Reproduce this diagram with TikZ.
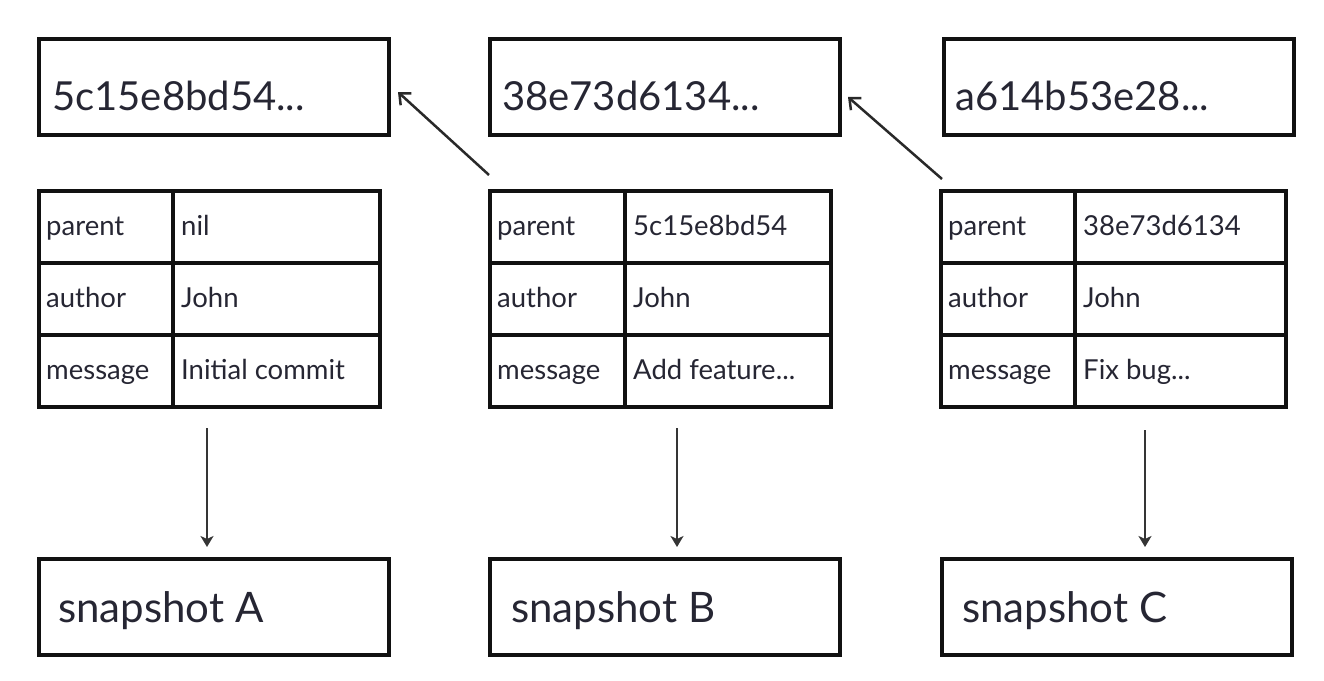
\documentclass[tikz,border=0pt]{standalone}
\usepackage{fontspec}
\setmainfont{Lato}
\usetikzlibrary{arrows.meta,fit,calc}
\definecolor{txt}{HTML}{262633}
\definecolor{ln}{HTML}{111111}
\tikzset{
  box/.style={draw=ln, line width=4.5pt, rectangle, inner sep=0pt, outer sep=0pt, minimum width=350pt, minimum height=96pt},
  cell/.style={draw=ln, line width=4pt, rectangle, inner sep=0pt, outer sep=0pt, minimum height=72pt},
  hashtxt/.style={text=txt, font=\fontsize{40}{40}\selectfont, inner sep=0pt, anchor=base west},
  snaptxt/.style={text=txt, font=\fontsize{42}{42}\selectfont, inner sep=0pt, anchor=base west},
  tabtxt/.style={text=txt, font=\fontsize{27.5}{27.5}\selectfont, inner sep=0pt, anchor=base west},
  diag/.style={draw=ln!90, line width=2.5pt, -{Straight Barb[length=9pt,width=16pt,line width=2.5pt]}},
  vert/.style={draw=ln!85, line width=2.5pt, -{Stealth[length=11pt,width=13pt,inset=3pt]}},
}
% #1 id, #2 L, #3 D, #4 R, #5 row index, #6 row id, #7 key, #8 value
\newcommand{\tabrow}[8]{%
  \node[cell, minimum width={#3-#2}, anchor=north west] (#1#6k) at (#2, {191+72*#5}) {};
  \node[cell, minimum width={#4-#3}, anchor=north west] (#1#6v) at (#3, {191+72*#5}) {};
  \node[tabtxt] (#1#6kt) at ({#2+7}, {191+72*#5+44}) {#7};
  \node[tabtxt] (#1#6vt) at ({#3+8}, {191+72*#5+44}) {#8};
}
\newcommand{\committable}[6]{%
  \tabrow{#1}{#2}{#3}{#4}{0}{p}{parent}{#5}
  \tabrow{#1}{#2}{#3}{#4}{1}{a}{author}{John}
  \tabrow{#1}{#2}{#3}{#4}{2}{m}{message}{#6}
  \node[fit=(#1pk)(#1mv), inner sep=0pt, outer sep=0pt] (#1) {};
}
\begin{document}
\begin{tikzpicture}[x=1pt,y=-1pt]
\useasboundingbox[fill=white] (0,0) rectangle (1324,680);

% hash boxes
\node[box, anchor=north west] (h1) at (39,39) {};
\node[box, anchor=north west] (h2) at (490,39) {};
\node[box, anchor=north west] (h3) at (944,39) {};
\node[hashtxt] (h1t) at (52,110) {5c15e8bd54...};
\node[hashtxt] (h2t) at (502,110) {38e73d6134...};
\node[hashtxt] (h3t) at (955,110) {a614b53e28...};

% tables
\committable{t1}{39}{173}{380}{nil}{Initial commit}
\committable{t2}{490}{625}{831}{5c15e8bd54}{Add feature...}
\committable{t3}{941}{1075}{1286}{38e73d6134}{Fix bug...}

% snapshot boxes
\node[box, anchor=north west] (s1) at (39,559) {};
\node[box, anchor=north west] (s2) at (490,559) {};
\node[box, anchor=north west] (s3) at (942,559) {};
\node[snaptxt] (s1t) at (58,622) {snapshot A};
\node[snaptxt] (s2t) at (511,622) {snapshot B};
\node[snaptxt] (s3t) at (962,622) {snapshot C};

% parent arrows
\draw[diag] ([shift={(-1,-16)}]t2.north west) -- ([shift={(9,5)}]h1.east);
\draw[diag] ([shift={(1,-12)}]t3.north west) -- ([shift={(8,10)}]h2.east);

% snapshot arrows
\draw[vert, shorten <=21pt, shorten >=12pt] ([xshift=168pt]t1.south west) -- ([xshift=168pt]t1.south west |- s1.north);
\draw[vert, shorten <=21pt, shorten >=12pt] ([xshift=187pt]t2.south west) -- ([xshift=187pt]t2.south west |- s2.north);
\draw[vert, shorten <=23pt, shorten >=12pt] ([xshift=204pt]t3.south west) -- ([xshift=204pt]t3.south west |- s3.north);
\end{tikzpicture}
\end{document}
